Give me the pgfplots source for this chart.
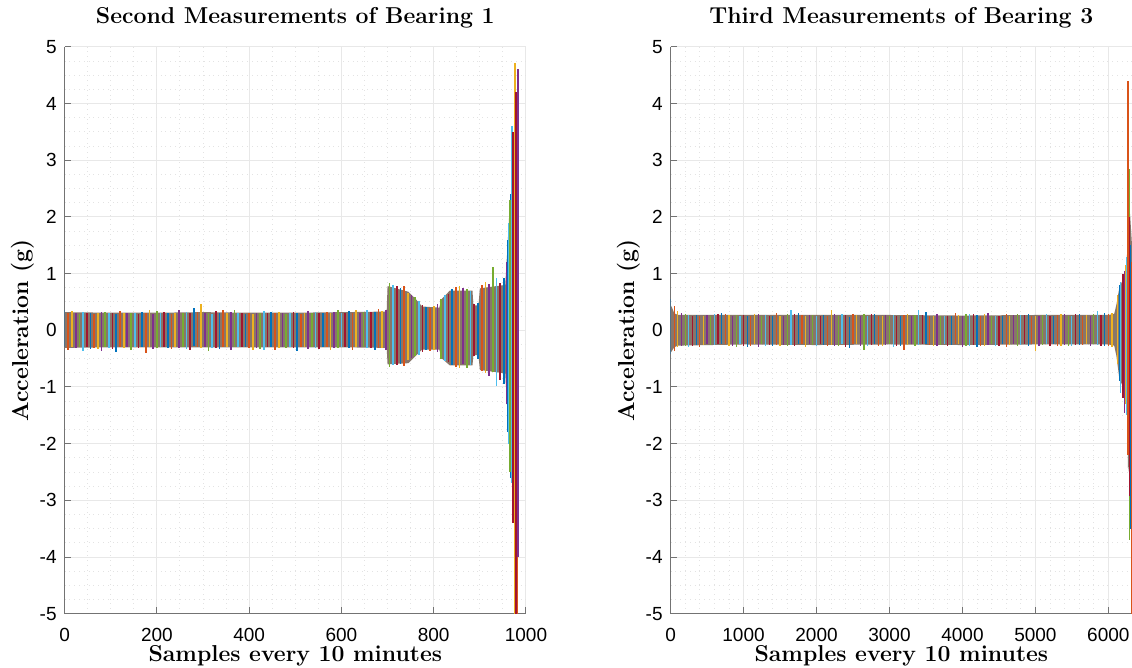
\documentclass[border=0pt]{standalone}
\usepackage{fontspec}
\newfontfamily\arialf{Liberation Sans}
\usepackage{pgfplots}
\usepackage{pgfplotstable}
\pgfplotsset{compat=1.18}
\definecolor{mA}{HTML}{0072BD}
\definecolor{mB}{HTML}{D95319}
\definecolor{mC}{HTML}{EDB120}
\definecolor{mD}{HTML}{7E2F8E}
\definecolor{mE}{HTML}{77AC30}
\definecolor{mF}{HTML}{4DBEEE}
\definecolor{mG}{HTML}{A2142F}
\definecolor{band}{RGB}{136,118,106}

% ---------- left: second measurements, bearing 1 ----------
\pgfplotstableread{
x hi lo
0 0.36 -0.30
56 0.30 -0.33
112 0.29 -0.38
168 0.33 -0.29
224 0.31 -0.31
280 0.40 -0.28
336 0.30 -0.33
392 0.28 -0.30
448 0.32 -0.29
504 0.30 -0.36
560 0.31 -0.30
616 0.34 -0.31
672 0.33 -0.35
728 0.74 -0.60
784 0.41 -0.35
840 0.72 -0.62
896 0.48 -0.50
952 0.92 -0.95
960 1.6 -1.8
968 2.4 -2.6
}\lA
\pgfplotstableread{
x hi lo
8 0.31 -0.34
64 0.28 -0.31
120 0.34 -0.29
176 0.30 -0.40
232 0.29 -0.33
288 0.33 -0.30
344 0.36 -0.29
400 0.30 -0.31
456 0.31 -0.34
512 0.28 -0.30
568 0.33 -0.29
624 0.31 -0.35
680 0.38 -0.31
736 0.78 -0.63
792 0.40 -0.36
848 0.76 -0.64
904 0.80 -0.72
964 2.2 -2.3
980 3.0 -5.5
}\lB
\pgfplotstableread{
x hi lo
16 0.34 -0.29
72 0.31 -0.33
128 0.30 -0.31
184 0.36 -0.30
240 0.30 -0.29
296 0.46 -0.32
352 0.31 -0.30
408 0.29 -0.35
464 0.33 -0.31
520 0.31 -0.29
576 0.30 -0.34
632 0.35 -0.30
688 0.34 -0.32
744 0.66 -0.52
800 0.42 -0.35
856 0.78 -0.66
912 0.86 -0.76
976 4.72 -5.5
}\lC
\pgfplotstableread{
x hi lo
24 0.30 -0.31
80 0.33 -0.36
136 0.31 -0.30
192 0.29 -0.33
248 0.35 -0.31
304 0.30 -0.29
360 0.32 -0.34
416 0.31 -0.31
472 0.30 -0.30
528 0.34 -0.33
584 0.32 -0.31
640 0.30 -0.29
696 0.36 -0.34
752 0.62 -0.48
808 0.46 -0.38
864 0.74 -0.60
920 0.82 -0.80
958 1.2 -1.3
982 4.6 -4.0
}\lD
\pgfplotstableread{
x hi lo
32 0.29 -0.30
88 0.32 -0.29
144 0.31 -0.34
200 0.34 -0.31
256 0.30 -0.30
312 0.31 -0.36
368 0.35 -0.29
424 0.30 -0.33
480 0.29 -0.31
536 0.31 -0.30
592 0.36 -0.32
648 0.32 -0.30
704 0.84 -0.64
760 0.58 -0.46
816 0.56 -0.50
872 0.72 -0.66
928 1.12 -0.74
966 2.3 -2.5
}\lE
\pgfplotstableread{
x hi lo
40 0.33 -0.36
96 0.30 -0.31
152 0.31 -0.30
208 0.30 -0.29
264 0.33 -0.33
320 0.29 -0.31
376 0.31 -0.30
432 0.34 -0.34
488 0.30 -0.30
544 0.32 -0.31
600 0.31 -0.29
656 0.36 -0.31
712 0.80 -0.62
768 0.52 -0.44
824 0.62 -0.54
880 0.70 -0.62
936 0.92 -0.98
962 1.9 -2.0
970 3.6 -2.7
}\lF
\pgfplotstableread{
x hi lo
48 0.30 -0.29
104 0.31 -0.33
160 0.29 -0.31
216 0.32 -0.30
272 0.30 -0.34
328 0.34 -0.31
384 0.31 -0.30
440 0.30 -0.29
496 0.33 -0.31
552 0.31 -0.33
608 0.30 -0.30
664 0.33 -0.32
720 0.78 -0.62
776 0.44 -0.38
832 0.64 -0.56
888 0.46 -0.46
944 0.84 -0.88
972 3.5 -3.4
978 4.2 -5.5
}\lG

% ---------- right: third measurements, bearing 3 ----------
\pgfplotstableread{
x hi lo
0 0.55 -0.42
350 0.27 -0.26
700 0.31 -0.24
1050 0.26 -0.30
1400 0.25 -0.27
1750 0.30 -0.25
2100 0.27 -0.26
2450 0.24 -0.31
2800 0.28 -0.25
3150 0.26 -0.27
3500 0.33 -0.24
3850 0.25 -0.26
4200 0.27 -0.29
4550 0.26 -0.25
4900 0.29 -0.27
5250 0.25 -0.24
5600 0.28 -0.26
5950 0.30 -0.28
6160 0.80 -0.90
6300 1.5 -3.5
}\rA
\pgfplotstableread{
x hi lo
50 0.42 -0.36
400 0.26 -0.29
750 0.28 -0.25
1100 0.25 -0.27
1450 0.30 -0.26
1800 0.27 -0.24
2150 0.26 -0.28
2500 0.29 -0.25
2850 0.25 -0.27
3200 0.27 -0.35
3550 0.26 -0.26
3900 0.31 -0.25
4250 0.25 -0.27
4600 0.28 -0.30
4950 0.26 -0.25
5300 0.27 -0.28
5650 0.25 -0.26
6000 0.29 -0.27
6190 0.95 -1.0
6270 4.39 -2.2
6315 1.2 -5.5
}\rB
\pgfplotstableread{
x hi lo
100 0.34 -0.30
450 0.25 -0.26
800 0.27 -0.28
1150 0.29 -0.25
1500 0.26 -0.27
1850 0.25 -0.29
2200 0.35 -0.26
2550 0.27 -0.25
2900 0.26 -0.28
3250 0.28 -0.26
3600 0.25 -0.27
3950 0.27 -0.25
4300 0.29 -0.28
4650 0.26 -0.26
5000 0.25 -0.36
5350 0.28 -0.27
5700 0.27 -0.25
6050 0.31 -0.30
6130 0.62 -0.60
6240 1.15 -1.3
}\rC
\pgfplotstableread{
x hi lo
150 0.30 -0.28
500 0.27 -0.25
850 0.26 -0.27
1200 0.28 -0.30
1550 0.25 -0.26
1900 0.27 -0.25
2250 0.29 -0.27
2600 0.26 -0.28
2950 0.27 -0.26
3300 0.25 -0.25
3650 0.28 -0.27
4000 0.26 -0.29
4350 0.30 -0.26
4700 0.27 -0.25
5050 0.25 -0.27
5400 0.28 -0.26
5750 0.26 -0.28
6220 1.05 -1.45
}\rD
\pgfplotstableread{
x hi lo
200 0.28 -0.27
550 0.25 -0.26
900 0.27 -0.29
1250 0.26 -0.25
1600 0.29 -0.27
1950 0.27 -0.26
2300 0.25 -0.28
2650 0.28 -0.34
3000 0.26 -0.25
3350 0.27 -0.27
3700 0.25 -0.26
4050 0.29 -0.28
4400 0.26 -0.25
4750 0.28 -0.27
5100 0.27 -0.26
5450 0.25 -0.28
5800 0.28 -0.25
6285 2.85 -3.7
}\rE
\pgfplotstableread{
x hi lo
250 0.27 -0.29
600 0.29 -0.26
950 0.26 -0.25
1300 0.27 -0.27
1650 0.36 -0.26
2000 0.26 -0.28
2350 0.28 -0.25
2700 0.25 -0.27
3050 0.27 -0.29
3400 0.36 -0.26
3750 0.26 -0.25
4100 0.28 -0.27
4450 0.25 -0.28
4800 0.27 -0.26
5150 0.29 -0.25
5500 0.26 -0.27
5850 0.34 -0.26
6170 0.85 -1.1
6250 1.3 -1.5
}\rF
\pgfplotstableread{
x hi lo
300 0.26 -0.27
650 0.28 -0.25
1000 0.27 -0.28
1350 0.25 -0.26
1700 0.28 -0.27
2050 0.26 -0.25
2400 0.27 -0.29
2750 0.29 -0.26
3100 0.25 -0.27
3450 0.27 -0.25
3800 0.26 -0.28
4150 0.28 -0.26
4500 0.25 -0.27
4850 0.27 -0.25
5200 0.26 -0.28
5550 0.28 -0.26
5900 0.27 -0.27
6200 1.0 -1.2
6290 2.0 -2.93
}\rG

\newcommand\combs[3]{%
  \addplot[ycomb, draw=#1, line width=#3, mark=none] table[x=x,y=hi]{#2};
  \addplot[ycomb, draw=#1, line width=#3, mark=none] table[x=x,y=lo]{#2};
}

\pgfplotsset{bear/.style={
  width=230.7pt, height=283.5pt, scale only axis,
  ymin=-5, ymax=5, ytick={-5,-4,...,5},
  axis x line=bottom, axis y line=left,
  axis line style={-, draw=black!55, line width=0.5pt},
  tick align=inside, major tick length=3.2pt, minor tick length=0pt,
  tick style={draw=black!55, line width=0.5pt},
  grid=both,
  major grid style={draw=black!9, line width=0.5pt},
  minor grid style={draw=black!11, dotted, line width=0.45pt},
  minor y tick num=3,
  scaled ticks=false,
  /pgf/number format/1000 sep={},
  /pgf/number format/assume math mode=true,
  ticklabel style={font=\arialf\fontsize{9.5}{11}\selectfont, inner sep=0pt},
  xticklabel style={anchor=north, yshift=-7pt},
  yticklabel style={anchor=east, xshift=-3.8pt},
  title style={at={(axis description cs:0.5,1.0206)}, anchor=base, font=\bfseries\fontsize{11.5}{13}\selectfont},
  xlabel style={at={(axis description cs:0.5,-0.085)}, anchor=base, font=\bfseries\fontsize{11.5}{13}\selectfont},
  ylabel style={at={(axis description cs:-0.079,0.5)}, anchor=base, rotate=0, font=\bfseries\fontsize{11.5}{13}\selectfont},
  xlabel={Samples every 10 minutes},
  ylabel={Acceleration (g)},
}}

\begin{document}
\begin{tikzpicture}
\begin{axis}[bear, at={(0pt,0pt)}, anchor=south west,
  xmin=0, xmax=1000, xtick={0,200,...,1000}, minor x tick num=3,
  title={Second Measurements of Bearing 1}]
\addplot[fill=band, draw=none] coordinates {
(0,0.32)(100,0.31)(200,0.31)(300,0.32)(400,0.31)(500,0.31)(600,0.32)(698,0.33)
(700,0.78)(745,0.68)(760,0.56)(775,0.42)(812,0.40)(818,0.56)(835,0.70)(884,0.70)
(886,0.44)(897,0.44)(900,0.74)(955,0.80)(958,1.2)(964,2.1)(972,2.3)(978,2.0)(984,1.0)
(984,-1.0)(978,-2.2)(972,-2.4)(964,-2.0)(958,-1.2)(955,-0.76)(900,-0.70)(897,-0.44)
(886,-0.44)(884,-0.62)(835,-0.62)(818,-0.50)(812,-0.34)(775,-0.34)(760,-0.46)(745,-0.58)
(700,-0.60)(698,-0.31)(600,-0.30)(500,-0.30)(400,-0.30)(300,-0.30)(200,-0.30)(100,-0.30)(0,-0.31)};
\combs{mA}{\lA}{0.85pt}
\combs{mB}{\lB}{0.85pt}
\combs{mC}{\lC}{0.85pt}
\combs{mD}{\lD}{0.85pt}
\combs{mE}{\lE}{0.85pt}
\combs{mF}{\lF}{0.85pt}
\combs{mG}{\lG}{0.85pt}
\end{axis}

\begin{axis}[bear, at={(303pt,0pt)}, anchor=south west,
  xmin=0, xmax=6324, xtick={0,1000,...,6000}, minor x tick num=4,
  title={Third Measurements of Bearing 3}]
\addplot[fill=band, draw=none] coordinates {
(0,0.45)(20,0.40)(50,0.30)(100,0.27)(1000,0.27)(2000,0.27)(3000,0.27)(4000,0.26)
(5000,0.27)(6000,0.27)(6080,0.29)(6110,0.45)(6150,0.75)(6200,0.90)(6240,1.05)
(6255,1.3)(6265,2.5)(6300,2.0)(6324,1.5)
(6324,-1.6)(6300,-2.2)(6270,-2.5)(6255,-1.4)(6240,-1.2)(6200,-1.0)(6150,-0.85)
(6110,-0.45)(6080,-0.27)(6000,-0.25)(5000,-0.25)(4000,-0.26)(3000,-0.25)(2000,-0.26)
(1000,-0.25)(100,-0.27)(50,-0.30)(20,-0.36)(0,-0.40)};
\combs{mA}{\rA}{0.6pt}
\combs{mB}{\rB}{0.6pt}
\combs{mC}{\rC}{0.6pt}
\combs{mD}{\rD}{0.6pt}
\combs{mE}{\rE}{0.6pt}
\combs{mF}{\rF}{0.6pt}
\combs{mG}{\rG}{0.6pt}
\end{axis}
\pgfresetboundingbox
\useasboundingbox (-32.3pt,-27.1pt) rectangle (533.7pt,306.9pt);
\end{tikzpicture}
\end{document}
